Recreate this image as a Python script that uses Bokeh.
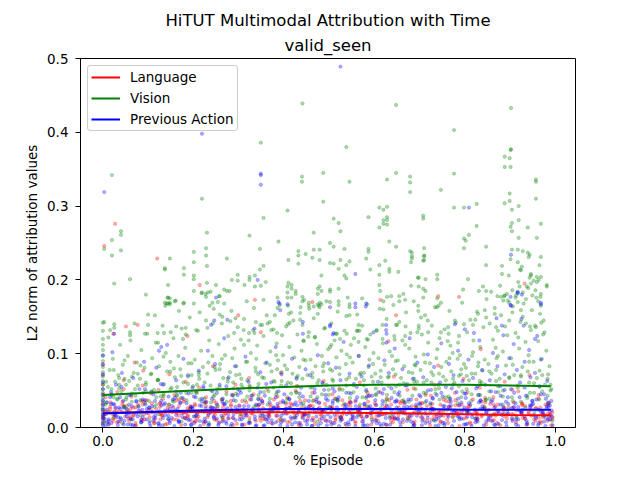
from bokeh.plotting import figure
from bokeh.models import Range1d, FixedTicker, PrintfTickFormatter, Title, Legend, LegendItem, ColumnDataSource
from bokeh.embed import file_html
from bokeh.resources import INLINE

TITLE = "HiTUT Multimodal Attribution with Time"
SUBTITLE = "valid_seen"
X_LABEL = "% Episode"
Y_LABEL = "L2 norm of attribution values"
SERIES = ["Language", "Vision", "Previous Action"]
X_TICKS = [0.0, 0.2, 0.4, 0.6, 0.8, 1.0]
Y_TICKS = [0.0, 0.1, 0.2, 0.3, 0.4, 0.5]

# smoothed trend lines
trend_x = [0.0, 0.1, 0.2, 0.3, 0.4, 0.5, 0.6, 0.7, 0.8, 0.9, 0.99]
language_trend = [0.020, 0.0205, 0.021, 0.021, 0.0205, 0.020, 0.0195, 0.019, 0.018, 0.017, 0.0165]
vision_trend = [0.044, 0.047, 0.050, 0.053, 0.055, 0.057, 0.058, 0.058, 0.058, 0.057, 0.056]
action_trend = [0.019, 0.021, 0.023, 0.024, 0.025, 0.025, 0.025, 0.025, 0.024, 0.024, 0.024]

# Language (red) points
language_pts = [
(0,.006),(0,.015),(0,.024),(0,.033),(0,.045),(0,.058),(0,.071),(0,.086),
(.007,.018),(.012,.005),(.017,.034),(.022,.012),(.027,.026),(.032,.048),(.037,.008),(.042,.021),(.046,.064),(.049,.015),
(.053,.029),(.058,.009),(.063,.042),(.068,.016),(.073,.003),(.078,.031),(.083,.022),(.088,.057),(.092,.011),(.097,.037),
(.103,.014),(.108,.033),(.113,.006),(.118,.025),(.123,.051),(.128,.018),(.133,.039),(.138,.004),(.143,.027),(.147,.072),
(.153,.021),(.158,.044),(.163,.011),(.168,.029),(.173,.003),(.178,.035),(.183,.062),(.188,.016),(.193,.025),(.197,.008),
(.203,.032),(.208,.013),(.213,.054),(.218,.022),(.223,.005),(.228,.041),(.233,.019),(.238,.028),(.243,.083),(.247,.011),
(.253,.026),(.258,.007),(.263,.038),(.268,.017),(.273,.049),(.278,.012),(.283,.031),(.288,.003),(.293,.058),(.297,.021),
(.303,.015),(.308,.036),(.313,.004),(.318,.024),(.323,.067),(.328,.019),(.333,.045),(.338,.009),(.343,.029),(.347,.013),
(.353,.033),(.358,.011),(.363,.052),(.368,.021),(.373,.006),(.378,.038),(.383,.016),(.388,.027),(.393,.074),(.397,.009),
(.403,.022),(.408,.041),(.413,.008),(.418,.031),(.423,.014),(.428,.056),(.433,.003),(.438,.026),(.443,.018),(.447,.037),
(.453,.012),(.458,.029),(.463,.047),(.468,.005),(.473,.021),(.478,.034),(.483,.016),(.488,.063),(.493,.024),(.497,.009),
(.503,.027),(.508,.006),(.513,.039),(.518,.017),(.523,.053),(.528,.011),(.533,.024),(.538,.003),(.543,.032),(.547,.019),
(.553,.013),(.558,.035),(.563,.022),(.568,.061),(.573,.008),(.578,.028),(.583,.015),(.588,.043),(.593,.004),(.597,.025),
(.603,.031),(.608,.009),(.613,.048),(.618,.018),(.623,.026),(.628,.003),(.633,.037),(.638,.014),(.643,.069),(.647,.021),
(.653,.016),(.658,.033),(.663,.007),(.668,.024),(.673,.051),(.678,.012),(.683,.029),(.688,.004),(.693,.038),(.697,.019),
(.703,.026),(.708,.011),(.713,.044),(.718,.017),(.723,.003),(.728,.032),(.733,.058),(.738,.015),(.743,.023),(.747,.008),
(.753,.021),(.758,.036),(.763,.006),(.768,.027),(.773,.014),(.778,.047),(.783,.019),(.788,.002),(.793,.031),(.797,.066),
(.803,.013),(.808,.029),(.813,.005),(.818,.038),(.823,.021),(.828,.011),(.833,.054),(.838,.017),(.843,.025),(.847,.004),
(.853,.024),(.858,.009),(.863,.041),(.868,.016),(.873,.031),(.878,.003),(.883,.019),(.888,.062),(.893,.012),(.897,.027),
(.903,.018),(.908,.034),(.913,.007),(.918,.049),(.923,.022),(.928,.013),(.933,.029),(.938,.004),(.943,.071),(.947,.016),
(.953,.011),(.958,.026),(.963,.039),(.968,.006),(.973,.018),(.978,.031),(.983,.009),(.988,.021),(.991,.003),(.994,.014),
(.027,.276),(.003,.246),(.120,.229),(.214,.193),(.336,.173),(.463,.170),(.932,.195),(.613,.173),(.741,.178),(.787,.177),
(.051,.137),(.077,.139),(.023,.127),(.187,.124),(.299,.152),(.070,.088),(.089,.077),(.349,.129),(.648,.152),(.631,.117),
(.835,.106),(.741,.084),
]
language_extra_x = [
.001,.016,.022,.031,.043,.057,.061,.072,.088,.091, .101,.114,.126,.131,.142,.156,.163,.179,.181,.193,
.204,.211,.226,.231,.248,.251,.266,.271,.283,.296, .301,.317,.324,.331,.349,.354,.368,.371,.387,.392,
.408,.414,.421,.436,.441,.458,.464,.479,.481,.491, .506,.514,.529,.531,.547,.558,.564,.571,.586,.594,
.601,.616,.623,.637,.641,.654,.661,.674,.689,.692, .703,.716,.727,.732,.746,.753,.761,.779,.781,.797,
.806,.811,.826,.837,.843,.856,.864,.871,.886,.894, .907,.914,.927,.933,.941,.956,.967,.972,.986,.993,
.006,.027,.046,.067,.085,.106,.127,.146,.168,.187, .206,.228,.246,.265,.287,.307,.325,.345,.367,.386,
.405,.426,.447,.466,.485,.507,.526,.546,.567,.585, .605,.627,.645,.666,.687,.706,.725,.746,.765,.786,
.806,.827,.845,.865,.887,.905,.926,.946,.963,.984,
]
language_extra_y = [
.015,.028,.009,.022,.035,.012,.025,.006,.031,.018, .024,.011,.033,.017,.005,.027,.020,.038,.013,.029,
.008,.021,.034,.014,.026,.010,.032,.019,.036,.023, .030,.016,.007,.025,.039,.012,.021,.028,.009,.034,
.019,.033,.024,.006,.017,.030,.013,.027,.022,.010, .026,.012,.037,.020,.029,.008,.023,.016,.035,.014,
.011,.024,.018,.031,.007,.027,.036,.013,.021,.028, .033,.009,.026,.015,.022,.038,.011,.030,.017,.024,
.020,.029,.010,.035,.025,.014,.031,.006,.023,.018, .027,.016,.032,.012,.019,.026,.008,.021,.015,.011,
.041,.018,.052,.027,.011,.046,.033,.022,.038,.015, .049,.029,.036,.013,.044,.024,.055,.031,.019,.042,
.026,.050,.017,.037,.023,.045,.014,.034,.028,.047, .021,.039,.012,.032,.053,.025,.043,.016,.035,.030,
.048,.020,.040,.027,.015,.051,.033,.024,.044,.019,
]
# second group of language points sharing the same episode positions
language_extra2_y = [
.012,.025,.018,.007,.031,.021,.014,.027,.009,.035, .019,.006,.028,.016,.023,.011,.037,.020,.013,.026,
.030,.015,.008,.022,.017,.033,.010,.024,.029,.005, .021,.034,.013,.019,.009,.026,.016,.031,.023,.012,
.007,.027,.020,.036,.014,.022,.029,.011,.018,.032, .025,.010,.017,.030,.024,.006,.021,.015,.028,.019,
.033,.018,.026,.009,.013,.035,.022,.017,.008,.027, .014,.029,.011,.023,.031,.016,.024,.037,.020,.012,
.026,.007,.019,.015,.028,.032,.010,.021,.025,.017, .018,.023,.030,.012,.021,.009,.027,.014,.033,.020,
.022,.013,.029,.017,.036,.024,.011,.031,.016,.026, .009,.034,.020,.027,.013,.018,.038,.023,.015,.029,
.032,.019,.025,.010,.022,.028,.014,.035,.021,.017, .016,.030,.012,.024,.019,.033,.026,.008,.028,.022,
.024,.015,.034,.018,.027,.011,.020,.029,.013,.031,
]

# Vision (green) points
vision_pts = [
(0,.005),(0,.012),(0,.018),(0,.024),(0,.03),(0,.036),(0,.041),(0,.047),(0,.052),(0,.058),(0,.063),(0,.069),(0,.075),
(0,.082),(0,.09),(0,.097),(0,.105),(0,.112),(0,.12),(0,.131),(0,.142),
(.006,.031),(.011,.055),(.015,.078),(.019,.044),(.022,.093),(.027,.062),(.031,.038),(.034,.071),(.038,.112),(.041,.049),(.044,.085),(.047,.027),(.012,.122),(.025,.135),(.036,.058),(.048,.066),
(.052,.041),(.055,.097),(.058,.063),(.061,.118),(.064,.035),(.068,.074),(.071,.052),(.075,.088),(.078,.029),(.082,.066),(.085,.105),(.089,.047),(.092,.081),(.095,.058),(.098,.127),(.07,.141),
(.102,.036),(.106,.072),(.109,.094),(.113,.051),(.117,.115),(.121,.064),(.124,.083),(.128,.042),(.132,.138),(.135,.059),(.139,.101),(.142,.076),(.146,.031),(.149,.089),(.115,.152),(.138,.165),
(.152,.054),(.156,.121),(.159,.068),(.163,.043),(.167,.097),(.171,.079),(.174,.134),(.178,.061),(.182,.108),(.185,.037),(.189,.087),(.192,.149),(.196,.071),(.199,.056),(.168,.158),(.183,.126),
(.203,.092),(.206,.047),(.21,.131),(.213,.066),(.217,.104),(.221,.082),(.224,.039),(.228,.145),(.231,.073),(.235,.118),(.238,.057),(.242,.097),(.245,.161),(.249,.078),(.214,.156),(.233,.088),
(.252,.052),(.256,.113),(.259,.086),(.263,.141),(.266,.067),(.27,.098),(.273,.045),(.277,.124),(.281,.075),(.284,.158),(.288,.061),(.291,.107),(.295,.083),(.298,.136),(.268,.168),(.286,.094),
(.302,.072),(.305,.119),(.309,.054),(.312,.147),(.316,.089),(.319,.064),(.323,.128),(.327,.101),(.33,.043),(.334,.162),(.337,.081),(.341,.111),(.344,.059),(.348,.139),(.318,.171),(.339,.093),
(.352,.068),(.355,.124),(.359,.087),(.362,.152),(.366,.049),(.37,.103),(.373,.076),(.377,.133),(.38,.062),(.384,.114),(.387,.091),(.391,.166),(.394,.057),(.398,.098),(.369,.143),(.385,.079),
(.402,.084),(.405,.137),(.409,.061),(.412,.109),(.416,.156),(.419,.073),(.423,.095),(.427,.048),(.43,.126),(.434,.082),(.437,.163),(.441,.066),(.444,.117),(.448,.091),(.421,.145),(.439,.104),
(.452,.071),(.455,.129),(.459,.092),(.462,.055),(.466,.148),(.47,.083),(.473,.113),(.477,.064),(.48,.169),(.484,.097),(.487,.076),(.491,.135),(.494,.058),(.498,.106),(.468,.122),(.489,.087),
(.502,.079),(.505,.141),(.509,.063),(.512,.118),(.516,.095),(.519,.157),(.523,.072),(.527,.104),(.53,.051),(.534,.131),(.537,.086),(.541,.176),(.544,.068),(.548,.112),(.515,.127),(.539,.099),
(.552,.088),(.555,.121),(.559,.066),(.562,.153),(.566,.097),(.57,.074),(.573,.138),(.577,.057),(.58,.109),(.584,.167),(.587,.082),(.591,.126),(.594,.069),(.598,.101),(.565,.116),(.589,.092),
(.602,.073),(.605,.132),(.609,.094),(.612,.161),(.616,.061),(.619,.114),(.623,.085),(.627,.147),(.63,.068),(.634,.103),(.637,.178),(.641,.079),(.644,.124),(.648,.056),(.618,.139),(.639,.097),
(.652,.091),(.655,.143),(.659,.067),(.662,.118),(.666,.083),(.67,.156),(.673,.059),(.677,.107),(.68,.128),(.684,.074),(.687,.171),(.691,.096),(.694,.062),(.698,.134),(.668,.112),(.689,.085),
(.702,.078),(.705,.126),(.709,.099),(.712,.152),(.716,.064),(.719,.115),(.723,.087),(.727,.138),(.73,.071),(.734,.163),(.737,.094),(.741,.058),(.744,.121),(.748,.082),(.718,.145),(.739,.106),
(.752,.069),(.755,.133),(.759,.089),(.762,.117),(.766,.158),(.77,.076),(.773,.101),(.777,.061),(.78,.142),(.784,.093),(.787,.124),(.791,.072),(.794,.169),(.798,.086),(.768,.111),(.789,.098),
(.802,.081),(.805,.129),(.809,.064),(.812,.146),(.816,.097),(.819,.118),(.823,.073),(.827,.157),(.83,.088),(.834,.109),(.837,.061),(.841,.136),(.844,.092),(.848,.174),(.818,.102),(.839,.077),
(.852,.086),(.855,.141),(.859,.073),(.862,.119),(.866,.162),(.87,.094),(.873,.131),(.877,.066),(.88,.152),(.884,.103),(.887,.178),(.891,.084),(.894,.125),(.898,.145),(.868,.108),(.889,.137),
(.902,.094),(.905,.156),(.909,.071),(.912,.128),(.916,.183),(.92,.107),(.923,.143),(.927,.082),(.93,.168),(.934,.116),(.937,.191),(.941,.098),(.944,.137),(.948,.159),(.918,.122),(.939,.076),
(.952,.089),(.955,.138),(.959,.067),(.962,.117),(.966,.154),(.97,.093),(.973,.126),(.977,.058),(.98,.104),(.984,.072),(.987,.083),(.991,.052),(.958,.176),(.969,.142),
(.004,.008),(.014,.021),(.024,.014),(.033,.039),(.043,.006),(.053,.025),(.063,.011),(.072,.043),(.083,.017),(.093,.033),
(.104,.009),(.114,.028),(.124,.018),(.134,.045),(.144,.012),(.154,.036),(.164,.022),(.174,.008),(.184,.047),(.194,.027),
(.204,.015),(.214,.038),(.224,.021),(.234,.006),(.244,.042),(.254,.029),(.264,.013),(.274,.035),(.284,.024),(.294,.046),
(.304,.018),(.314,.037),(.324,.009),(.334,.028),(.344,.044),(.354,.016),(.364,.031),(.374,.022),(.384,.048),(.394,.011),
(.404,.034),(.414,.025),(.424,.014),(.434,.041),(.444,.029),(.454,.019),(.464,.036),(.474,.008),(.484,.045),(.494,.027),
(.504,.021),(.514,.039),(.524,.013),(.534,.032),(.544,.047),(.554,.024),(.564,.017),(.574,.041),(.584,.029),(.594,.011),
(.604,.044),(.614,.026),(.624,.035),(.634,.016),(.644,.048),(.654,.022),(.664,.037),(.674,.012),(.684,.043),(.694,.028),
(.704,.019),(.714,.046),(.724,.031),(.734,.009),(.744,.038),(.754,.025),(.764,.042),(.774,.015),(.784,.033),(.794,.049),
(.804,.021),(.814,.036),(.824,.012),(.834,.044),(.844,.027),(.854,.039),(.864,.018),(.874,.048),(.884,.031),(.894,.023),
(.904,.041),(.914,.014),(.924,.035),(.934,.027),(.944,.047),(.954,.021),(.964,.038),(.974,.016),(.984,.033),(.993,.009),
(.441,.439),(.648,.437),(.902,.433),(.776,.403),(.349,.386),(.538,.380),(.902,.377),
(.020,.342),(.44,.340),(.44,.333),(.487,.345),(.219,.310),(.487,.306),(.408,.294),(.355,.284),(.040,.266),(.040,.261),
(.020,.254),(.230,.264),(.324,.260),(.466,.264),(.003,.242),(.388,.252),(.040,.240),(.020,.233),(.228,.243),(.201,.238),
(.347,.242),(.432,.239),(.432,.233),(.432,.222),(.466,.241),(.479,.241),(.228,.233),(.201,.224),(.148,.229),(.274,.229),
(.410,.227),(.448,.235),(.463,.230),(.479,.227),(.137,.216),(.137,.214),(.179,.216),(.230,.219),(.355,.219),(.347,.214),
(.060,.201),(.179,.207),(.201,.206),(.201,.201),(.298,.207),(.285,.200),(.298,.199),(.324,.204),(.324,.200),(.336,.206),
(.360,.197),(.483,.206),(.025,.195),(.144,.193),(.230,.196),(.250,.193),(.313,.193),(.336,.191),(.349,.192),(.410,.196),
(.417,.193),(.408,.191),(.417,.188),(.479,.191),(.475,.188),(.483,.185),(.475,.181),(.201,.185),(.219,.183),(.232,.183),
(.095,.180),(.144,.176),(.148,.175),(.228,.177),(.257,.178),(.274,.185),(.280,.185),(.268,.187),(.355,.173),(.386,.176),
(.408,.183),(.408,.176),(.417,.176),(.426,.185),(.426,.181),(.441,.177),(.445,.173),(.441,.171),(.455,.169),(.137,.169),
(.148,.169),(.144,.168),(.159,.171),(.179,.169),(.201,.168),(.236,.165),(.254,.170),(.483,.167),(.475,.167),(.455,.165),
(.494,.171),
(.901,.376),(.888,.367),(.899,.365),(.888,.353),(.901,.353),(.648,.345),(.679,.340),(.679,.332),(.679,.319),(.776,.344),
(.545,.333),(.628,.336),(.747,.322),(.957,.336),(.957,.333),(.899,.317),(.957,.310),(.899,.307),(.888,.304),(.919,.300),
(.904,.295),(.826,.303),(.776,.298),(.798,.298),(.611,.298),(.620,.295),(.628,.299),(.510,.283),(.521,.277),(.525,.266),
(.587,.285),(.620,.281),(.628,.285),(.628,.281),(.620,.276),(.628,.275),(.611,.271),(.708,.287),(.708,.283),(.904,.277),
(.919,.281),(.901,.272),(.904,.266),(.968,.276),(.939,.271),(.826,.273),(.919,.257),(.959,.257),(.798,.256),(.802,.253),
(.809,.261),(.633,.252),(.502,.250),(.510,.245),(.648,.245),(.534,.242),(.587,.242),(.587,.238),(.679,.239),(.683,.237),
(.683,.232),(.683,.229),(.681,.224),(.710,.243),(.798,.243),(.847,.245),(.904,.241),(.917,.241),(.928,.239),(.939,.237),
(.943,.234),(.941,.231),(.968,.231),(.901,.228),(.917,.224),(.710,.233),(.710,.232),(.710,.227),(.708,.226),(.582,.229),
(.624,.226),(.525,.227),(.502,.223),(.510,.222),(.521,.215),(.538,.220),(.545,.225),(.611,.220),(.633,.215),(.633,.211),
(.653,.211),(.591,.214),(.847,.220),(.882,.219),(.965,.220),(.926,.218),(.922,.214),(.924,.213),(.534,.206),(.538,.202),
(.611,.207),(.739,.207),(.739,.201),(.696,.203),(.698,.203),(.713,.201),(.807,.201),(.882,.208),(.897,.206),(.946,.208),
(.946,.206),(.943,.203),(.959,.204),(.968,.204),(.959,.197),(.963,.200),(.952,.199),(.946,.195),(.981,.193),(.981,.191),
(.611,.193),(.613,.185),(.681,.192),(.698,.191),(.708,.188),(.713,.185),(.796,.187),(.840,.191),(.831,.185),(.847,.185),
(.858,.184),(.968,.181),(.521,.188),(.502,.187),(.502,.184),(.628,.177),(.655,.178),(.655,.171),(.708,.176),(.739,.175),
(.747,.169),(.545,.167),(.521,.171),(.521,.166),(.502,.170),(.573,.175),(.642,.166),(.697,.165),
(.872,.178),(.885,.172),(.893,.181),(.905,.186),(.912,.176),(.921,.191),(.928,.183),(.935,.174),(.940,.189),(.949,.179),
(.956,.186),(.962,.171),(.878,.192),(.898,.169),(.918,.197),
(.143,.176),(.141,.168),(.148,.167),(.161,.172),(.178,.168),(.227,.181),(.218,.182),(.238,.184),(.258,.178),(.242,.169),
(.100,.153),(.003,.143),(.025,.140),(.016,.132),(.060,.129),(.060,.125),(.093,.127),(.100,.139),(.122,.115),(.121,.128),
(.135,.128),(.150,.129),(.162,.137),(.183,.135),(.177,.120),(.206,.132),(.231,.135),(.243,.141),(.258,.153),(.264,.150),
(.282,.144),(.293,.148),(.290,.128),(.311,.132),(.322,.118),(.312,.112),
(.380,.152),(.386,.162),(.409,.165),(.411,.154),(.409,.140),(.413,.142),(.477,.165),(.479,.163),(.475,.154),(.436,.155),
(.436,.146),(.441,.139),(.456,.161),(.466,.164),(.505,.112),(.502,.109),(.545,.163),(.545,.152),(.538,.151),(.565,.139),
(.563,.131),(.567,.131),(.586,.119),(.620,.171),(.620,.160),(.648,.139),(.650,.139),(.664,.181),(.668,.173),(.669,.137),
(.668,.124),(.338,.143),(.332,.132),(.335,.128),(.352,.139),(.364,.141),(.372,.132),(.385,.128),(.396,.125),(.443,.118),
(.454,.123),(.469,.123),(.489,.134),(.517,.127),(.524,.120),(.539,.127),(.561,.131),(.583,.120),(.605,.131),(.618,.120),
(.645,.119),
(.697,.158),(.703,.149),(.698,.138),(.695,.129),(.719,.129),(.738,.163),(.742,.165),(.747,.129),(.763,.136),(.764,.127),
(.778,.145),(.785,.115),(.798,.140),(.818,.139),(.823,.146),(.829,.154),(.844,.159),(.847,.149),(.866,.154),(.869,.136),
(.880,.177),(.888,.179),(.895,.172),(.906,.164),(.913,.179),(.917,.170),(.924,.159),(.928,.150),(.935,.141),(.946,.132),
(.957,.136),(.968,.165),(.967,.177),(.974,.145),(.976,.129),
]
vision_extra_x = [
.007,.019,.024,.036,.048,.051,.064,.077,.083,.095, .107,.118,.122,.134,.149,.157,.164,.173,.188,.196,
.208,.212,.225,.239,.247,.258,.263,.276,.288,.294, .306,.319,.324,.338,.343,.356,.369,.377,.383,.395,
.407,.416,.428,.431,.443,.459,.463,.474,.486,.499, .507,.519,.523,.538,.546,.554,.568,.577,.582,.597,
.603,.614,.628,.632,.647,.656,.665,.676,.688,.691, .709,.712,.726,.735,.743,.758,.766,.774,.787,.792,
.804,.815,.829,.833,.846,.854,.869,.873,.884,.898, .906,.917,.924,.938,.942,.953,.965,.971,.983,.989,
]
vision_extra_y = [
.062,.045,.078,.053,.091,.038,.069,.057,.084,.049, .073,.041,.065,.096,.052,.080,.044,.070,.059,.087,
.047,.075,.061,.034,.082,.055,.093,.066,.043,.071, .058,.089,.050,.076,.039,.067,.085,.054,.098,.063,
.079,.046,.068,.056,.092,.042,.074,.060,.083,.051, .065,.037,.081,.057,.095,.048,.072,.064,.040,.086,
.053,.077,.044,.069,.090,.058,.035,.075,.062,.084, .047,.088,.061,.052,.073,.041,.094,.066,.056,.079,
.070,.045,.083,.059,.038,.076,.063,.097,.050,.068, .085,.054,.071,.043,.089,.060,.077,.049,.066,.058,
]
# second group of vision points sharing the same episode positions
vision_extra2_y = [
.034,.052,.041,.067,.029,.058,.046,.073,.037,.061, .049,.031,.064,.043,.076,.035,.055,.040,.069,.047,
.058,.071,.033,.050,.044,.079,.038,.062,.053,.036, .066,.042,.057,.030,.072,.048,.039,.063,.045,.075,
.039,.060,.047,.070,.033,.054,.068,.041,.059,.044, .077,.036,.051,.065,.040,.057,.031,.074,.049,.062,
.045,.068,.038,.056,.072,.043,.060,.035,.066,.052, .061,.034,.075,.046,.053,.064,.039,.058,.070,.041,
.052,.073,.044,.063,.037,.049,.078,.056,.042,.067, .036,.057,.069,.040,.061,.047,.055,.071,.043,.050,
]

# Previous Action (blue) points
action_pts = [
(0,.003),(0,.008),(0,.013),(0,.017),(0,.021),(0,.026),(0,.031),(0,.037),(0,.044),(0,.052),(0,.061),(0,.072),(0,.085),(0,.098),
(.006,.002),(.009,.024),(.013,.011),(.016,.041),(.019,.006),(.023,.032),(.026,.017),(.029,.058),(.033,.003),(.036,.027),(.039,.013),(.042,.074),(.045,.036),(.048,.009),(.021,.102),
(.052,.019),(.055,.004),(.058,.044),(.061,.012),(.064,.029),(.067,.067),(.071,.002),(.074,.035),(.077,.015),(.081,.052),(.084,.007),(.087,.024),(.091,.089),(.094,.031),(.097,.011),
(.102,.027),(.105,.002),(.108,.048),(.112,.014),(.115,.036),(.118,.081),(.122,.006),(.125,.022),(.128,.059),(.132,.003),(.135,.031),(.138,.017),(.142,.112),(.145,.042),(.148,.009),
(.152,.013),(.155,.038),(.158,.002),(.162,.064),(.165,.025),(.168,.008),(.172,.047),(.175,.019),(.178,.093),(.182,.004),(.185,.033),(.188,.071),(.192,.011),(.195,.028),(.198,.054),
(.202,.006),(.205,.041),(.208,.018),(.212,.077),(.215,.002),(.218,.029),(.222,.056),(.225,.012),(.228,.035),(.232,.104),(.235,.004),(.238,.022),(.242,.049),(.245,.015),(.248,.086),
(.252,.031),(.255,.003),(.258,.058),(.262,.016),(.265,.039),(.268,.121),(.272,.008),(.275,.026),(.278,.068),(.282,.002),(.285,.044),(.288,.013),(.292,.083),(.295,.021),(.298,.052),
(.302,.011),(.305,.047),(.308,.003),(.312,.029),(.315,.096),(.318,.017),(.322,.062),(.325,.006),(.328,.038),(.332,.023),(.335,.134),(.338,.002),(.342,.054),(.345,.031),(.348,.075),
(.352,.019),(.355,.002),(.358,.043),(.362,.088),(.365,.012),(.368,.034),(.372,.061),(.375,.005),(.378,.027),(.382,.109),(.385,.016),(.388,.049),(.392,.003),(.395,.072),(.398,.036),
(.402,.024),(.405,.057),(.408,.002),(.412,.039),(.415,.014),(.418,.093),(.422,.031),(.425,.007),(.428,.066),(.432,.021),(.435,.046),(.438,.003),(.442,.127),(.445,.018),(.448,.079),
(.452,.009),(.455,.036),(.458,.071),(.462,.002),(.465,.025),(.468,.052),(.472,.015),(.475,.098),(.478,.033),(.482,.006),(.485,.061),(.488,.022),(.492,.044),(.495,.003),(.498,.087),
(.502,.028),(.505,.004),(.508,.053),(.512,.017),(.515,.081),(.518,.038),(.522,.002),(.525,.064),(.528,.011),(.532,.116),(.535,.026),(.538,.047),(.542,.007),(.545,.073),(.548,.034),
(.552,.015),(.555,.059),(.558,.002),(.562,.041),(.565,.097),(.568,.023),(.572,.069),(.575,.008),(.578,.032),(.582,.051),(.585,.003),(.588,.084),(.592,.019),(.595,.043),(.598,.129),
(.602,.037),(.605,.006),(.608,.062),(.612,.021),(.615,.002),(.618,.046),(.622,.091),(.625,.013),(.628,.029),(.632,.074),(.635,.004),(.638,.053),(.642,.018),(.645,.107),(.648,.035),
(.652,.011),(.655,.048),(.658,.002),(.662,.079),(.665,.027),(.668,.057),(.672,.009),(.675,.038),(.678,.121),(.682,.016),(.685,.066),(.688,.003),(.692,.031),(.695,.088),(.698,.022),
(.702,.042),(.705,.003),(.708,.068),(.712,.019),(.715,.036),(.718,.099),(.722,.007),(.725,.051),(.728,.025),(.732,.082),(.735,.002),(.738,.044),(.742,.013),(.745,.061),(.748,.114),
(.752,.029),(.755,.006),(.758,.055),(.762,.017),(.765,.086),(.768,.039),(.772,.002),(.775,.071),(.778,.023),(.782,.048),(.785,.104),(.788,.011),(.792,.034),(.795,.063),(.798,.004),
(.802,.046),(.805,.015),(.808,.092),(.812,.031),(.815,.002),(.818,.067),(.822,.024),(.825,.053),(.828,.008),(.832,.118),(.835,.037),(.838,.078),(.842,.003),(.845,.058),(.848,.021),
(.852,.012),(.855,.064),(.858,.035),(.862,.101),(.865,.004),(.868,.048),(.872,.083),(.875,.019),(.878,.056),(.882,.138),(.885,.027),(.888,.072),(.892,.002),(.895,.041),(.898,.094),
(.902,.052),(.905,.009),(.908,.113),(.912,.033),(.915,.078),(.918,.002),(.922,.061),(.925,.147),(.928,.024),(.932,.089),(.935,.043),(.938,.006),(.942,.105),(.945,.068),(.948,.031),
(.952,.017),(.955,.074),(.958,.038),(.962,.003),(.965,.056),(.968,.092),(.972,.021),(.975,.045),(.978,.002),(.982,.063),(.985,.028),(.988,.011),(.991,.036),(.994,.003),(.96,.124),
(.525,.489),(.219,.398),(.003,.319),(.349,.344),(.349,.342),(.349,.329),(.342,.200),(.250,.176),(.388,.170),(.408,.167),
(.809,.298),(.902,.234),(.558,.208),(.582,.168),(.558,.168),(.901,.166),(.917,.184),(.968,.169),(.390,.168),(.392,.159),
(.442,.143),(.502,.163),(.502,.139),(.502,.137),(.510,.128),(.508,.126),(.558,.163),(.581,.164),(.626,.139),(.626,.132),
(.627,.127),(.627,.115),(.901,.177),(.902,.165),(.968,.167),(.917,.182),(.926,.180),(.778,.14),(.80,.133),(.82,.128),
(.885,.125),(.93,.138),(.955,.12),(.87,.148),(.025,.127),(.129,.109),(.124,.104),(.239,.139),(.246,.145),(.275,.146),
]
action_extra_x = [
.004,.013,.025,.034,.046,.053,.066,.074,.085,.097, .103,.116,.124,.137,.145,.153,.168,.176,.184,.195,
.206,.214,.227,.233,.245,.256,.264,.277,.285,.293, .307,.315,.322,.336,.344,.357,.365,.373,.386,.394,
.405,.418,.426,.433,.447,.455,.462,.476,.484,.497, .503,.517,.525,.536,.544,.552,.567,.575,.583,.596,
.604,.612,.626,.634,.645,.657,.663,.678,.686,.694, .706,.713,.724,.737,.742,.755,.764,.776,.785,.793,
.805,.816,.823,.834,.847,.852,.867,.874,.882,.896, .904,.913,.925,.936,.944,.957,.963,.975,.984,.992,
.009,.018,.029,.038,.041,.058,.062,.079,.088,.093, .109,.112,.129,.133,.148,.159,.162,.171,.189,.198,
.201,.219,.222,.238,.241,.252,.269,.273,.289,.298, .302,.311,.328,.339,.348,.352,.361,.378,.382,.399,
.401,.412,.429,.438,.442,.451,.468,.472,.489,.493, .508,.512,.521,.539,.548,.559,.561,.578,.589,.591,
.609,.618,.621,.638,.649,.652,.668,.672,.681,.699, .701,.718,.729,.731,.748,.751,.769,.771,.788,.799,
.802,.809,.828,.831,.839,.858,.861,.879,.888,.891, .909,.918,.921,.932,.949,.951,.968,.979,.981,.988,
]
action_extra_y = [
.012,.004,.021,.008,.027,.015,.003,.019,.010,.025, .006,.017,.002,.023,.011,.029,.007,.014,.020,.004,
.016,.009,.026,.003,.013,.022,.008,.018,.005,.028, .011,.020,.006,.015,.024,.003,.017,.010,.026,.007,
.019,.004,.013,.022,.009,.016,.002,.025,.012,.018, .008,.027,.014,.005,.021,.011,.018,.003,.015,.023,
.010,.017,.004,.026,.013,.007,.020,.016,.002,.024, .014,.006,.022,.011,.019,.003,.028,.009,.015,.021,
.005,.018,.012,.025,.008,.016,.003,.022,.010,.019, .013,.004,.020,.009,.027,.015,.006,.017,.011,.023,
.034,.048,.027,.041,.055,.031,.044,.023,.038,.052, .029,.045,.036,.058,.025,.040,.049,.033,.046,.028,
.042,.035,.053,.026,.039,.047,.032,.056,.037,.044, .050,.024,.043,.031,.048,.036,.059,.027,.041,.034,
.045,.038,.030,.054,.042,.026,.047,.035,.051,.039, .033,.049,.041,.028,.046,.037,.055,.032,.043,.029,
.048,.036,.052,.040,.027,.045,.034,.057,.038,.044, .031,.050,.039,.025,.047,.042,.035,.053,.030,.046,
.040,.033,.056,.044,.029,.049,.037,.043,.051,.035, .047,.028,.041,.054,.036,.032,.045,.039,.026,.030,
]
# second group of action points sharing the same episode positions
action_extra2_y = [
.018,.009,.031,.014,.004,.024,.011,.036,.007,.020, .027,.013,.005,.033,.016,.022,.009,.040,.012,.003,
.021,.030,.008,.017,.026,.006,.035,.013,.023,.010, .004,.019,.029,.011,.038,.015,.007,.024,.032,.016,
.025,.012,.034,.006,.018,.028,.010,.003,.021,.037, .014,.023,.009,.031,.004,.017,.026,.012,.042,.008,
.030,.005,.019,.013,.035,.022,.011,.027,.006,.016, .009,.024,.033,.018,.003,.029,.015,.021,.039,.012,
.022,.014,.007,.036,.020,.010,.028,.005,.017,.032, .026,.011,.019,.004,.030,.013,.024,.008,.034,.015,
.007,.032,.016,.025,.011,.019,.004,.028,.014,.037, .021,.009,.030,.013,.006,.023,.017,.034,.010,.026,
.015,.039,.008,.020,.027,.012,.031,.005,.018,.024, .029,.014,.022,.003,.016,.035,.011,.025,.007,.019,
.010,.027,.017,.032,.013,.004,.021,.038,.015,.009, .036,.006,.024,.018,.011,.029,.014,.003,.026,.020,
.016,.031,.005,.023,.037,.012,.019,.028,.008,.033, .024,.013,.040,.010,.017,.006,.030,.022,.014,.027,
.004,.020,.012,.034,.025,.016,.009,.031,.018,.007, .028,.011,.023,.015,.036,.005,.021,.013,.029,.017,
]

FONT = "DejaVu Sans"

p = figure(width=624, height=471, output_backend="svg", toolbar_location=None,
           x_range=Range1d(-0.0495, 1.0445), y_range=Range1d(0, 0.5),
           min_border_left=80, min_border_right=49, min_border_top=58, min_border_bottom=44,
           background_fill_color="white", border_fill_color="white")

p.add_layout(Title(text=SUBTITLE, align="center", text_font=FONT, text_font_size="16.5px",
                   text_font_style="normal", text_color="black", standoff=8), "above")
p.add_layout(Title(text=TITLE, align="center", text_font=FONT, text_font_size="16.5px",
                   text_font_style="normal", text_color="black", standoff=0), "above")

p.grid.visible = False
p.outline_line_color = "black"
p.outline_line_width = 1
p.outline_line_alpha = 1

for ax, ticks in ((p.xaxis, X_TICKS), (p.yaxis, Y_TICKS)):
    ax.ticker = FixedTicker(ticks=ticks)
    ax.formatter = PrintfTickFormatter(format="%.1f")
    ax.minor_tick_line_color = None
    ax.major_tick_out = 5
    ax.major_tick_in = 0
    ax.major_tick_line_color = "black"
    ax.axis_line_color = "black"
    ax.major_label_text_font = FONT
    ax.major_label_text_font_size = "13.5px"
    ax.major_label_text_color = "black"
    ax.axis_label_text_font = FONT
    ax.axis_label_text_font_size = "13.5px"
    ax.axis_label_text_font_style = "normal"
    ax.axis_label_text_color = "black"
p.xaxis.axis_label = X_LABEL
p.yaxis.axis_label = Y_LABEL
p.xaxis.major_label_standoff = 3
p.yaxis.major_label_standoff = 7
p.xaxis.axis_label_standoff = 3
p.yaxis.axis_label_standoff = 4

colors = ["#ff0000", "#008000", "#0000ff"]
groups = [
    (language_pts, language_extra_x, [language_extra_y, language_extra2_y]),
    (vision_pts, vision_extra_x, [vision_extra_y, vision_extra2_y]),
    (action_pts, action_extra_x, [action_extra_y, action_extra2_y]),
]
for (pts, ex, eys), c in zip(groups, colors):
    xs = [a for a, b in pts]
    ys = [b for a, b in pts]
    for ey in eys:
        n = min(len(ex), len(ey))
        xs += list(ex[:n])
        ys += list(ey[:n])
    src = ColumnDataSource(dict(x=xs, y=ys))
    p.scatter("x", "y", source=src, size=3.4, fill_color=c, line_color=c,
              fill_alpha=0.32, line_alpha=0.32, line_width=0.7)

trends = [language_trend, vision_trend, action_trend]
renderers = []
for t, c in zip(trends, colors):
    r = p.line(trend_x, t, line_color=c, line_width=2)
    renderers.append(r)

legend = Legend(items=[LegendItem(label=s, renderers=[r]) for s, r in zip(SERIES, renderers)],
                location="top_left", margin=7, padding=3, spacing=5,
                label_height=16, glyph_height=16, glyph_width=29, label_standoff=10,
                label_text_font=FONT, label_text_font_size="13.5px", label_text_color="black",
                border_line_color="#cccccc", border_line_alpha=1, background_fill_alpha=0.8)
try:
    legend.border_radius = 3
except Exception:
    pass
p.add_layout(legend, "center")

open("out.html", "w").write(file_html(p, INLINE))
